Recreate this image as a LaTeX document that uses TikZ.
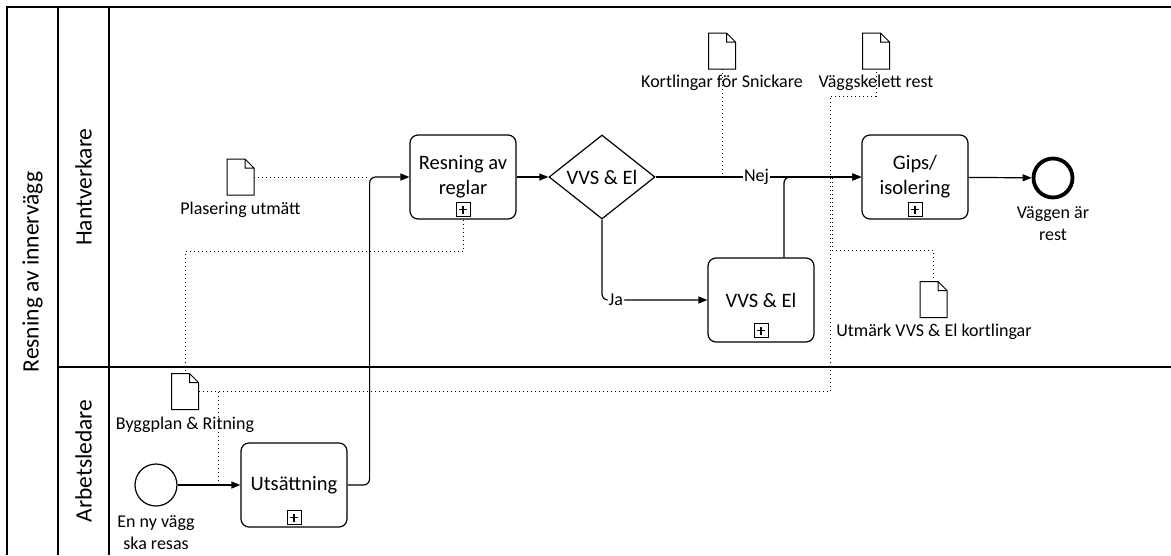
\documentclass[tikz,border=0pt]{standalone}
\usepackage{fontspec}
\setmainfont{Carlito}
\usetikzlibrary{arrows.meta,shapes.geometric}

% outline of a BPMN data object (page with folded corner)
\newcommand\docshape[1]{%
  \draw[docline] (#1.south west) -- (#1.north west) -- ([xshift=-9pt]#1.north east)
    -- ([yshift=-9pt]#1.north east) -- (#1.south east) -- cycle
    ([xshift=-9pt]#1.north east) -- ([xshift=-9pt,yshift=-9pt]#1.north east)
    -- ([yshift=-9pt]#1.north east);}

\begin{document}
\begin{tikzpicture}[x=1pt,y=-1pt,
  poolline/.style={line width=1.5pt},
  task/.style={draw, rounded corners=8pt, line width=1.2pt, minimum width=106pt,
    minimum height=84pt, inner sep=2pt, align=center,
    font=\fontsize{20.5}{25}\selectfont},
  marker/.style={draw, line width=1pt, minimum size=14pt, inner sep=0pt,
    path picture={\draw[line width=1.6pt]
      ([xshift=-4pt]path picture bounding box.center) -- ([xshift=4pt]path picture bounding box.center)
      ([yshift=-4pt]path picture bounding box.center) -- ([yshift=4pt]path picture bounding box.center);}},
  gateway/.style={draw, diamond, line width=1.2pt, minimum width=106pt, minimum height=84pt, inner sep=0pt},
  gwtext/.style={font=\fontsize{20.5}{25}\selectfont, inner sep=0pt},
  startev/.style={draw, circle, line width=1.2pt, minimum size=42pt, inner sep=0pt},
  endev/.style={draw, circle, line width=3.8pt, minimum size=39pt, inner sep=0pt},
  dataobj/.style={minimum width=27pt, minimum height=36pt, inner sep=0pt, outer sep=0pt},
  docline/.style={line width=1pt, line join=miter},
  lbl/.style={font=\fontsize{18}{22}\selectfont, align=center, inner sep=1pt},
  lanelbl/.style={font=\fontsize{23.5}{28}\selectfont, rotate=90, inner sep=0pt},
  flow/.style={line width=1.2pt, -{Triangle[length=9pt,width=7pt]}, rounded corners=6pt},
  assoc/.style={line width=0.9pt, dash pattern=on 1pt off 3pt},
  flowlbl/.style={font=\fontsize{18}{22}\selectfont, fill=white, inner sep=1pt}]
\useasboundingbox (0,0) rectangle (1171,555);

% pool and lanes
\draw[poolline] (1171,7) -- (7,7) -- (7,555);
\draw[poolline] (58,7) -- (58,555);
\draw[poolline] (109,7) -- (109,555);
\draw[line width=1.8pt] (58,367) -- (1171,367);
\node[lanelbl] (pool) at (32.5,272) {Resning av innervägg};
\node[lanelbl] (lane1) at (83.5,187) {Hantverkare};
\node[lanelbl] (lane2) at (83.5,461) {Arbetsledare};

% flow nodes
\node[startev] (start) at (156,485) {};
\node[lbl] (lstart) at (156,533) {En ny vägg\\ska resas};
\node[task] (tut) at (294,485) {Utsättning};
\node[task] (tres) at (463,177) {Resning av\\reglar};
\node[gateway] (gw) at (602,177) {};
\node[gwtext] (gwt) at (gw.center) {VVS \& El};
\node[task] (tvvs) at (761,300) {VVS \& El};
\node[task] (tgips) at (915,177) {Gips/\\isolering};
\node[endev] (end) at (1053,178) {};
\node[lbl] (lend) at (1053,224) {Väggen är\\rest};

% sub-process markers
\node[marker] (m1) at ([yshift=10pt]tut.south) {};
\node[marker] (m2) at ([yshift=10pt]tres.south) {};
\node[marker] (m3) at ([yshift=12pt]tvvs.south) {};
\node[marker] (m4) at ([yshift=10pt]tgips.south) {};

% data objects
\node[dataobj] (dplas) at (240.5,177) {};
\docshape{dplas}
\node[lbl] (lplas) at (240.5,210) {Plasering utmätt};
\node[dataobj] (dbygg) at (185,391.5) {};
\docshape{dbygg}
\node[lbl] (lbygg) at (185,425) {Byggplan \& Ritning};
\node[dataobj] (dkort) at (722,51) {};
\docshape{dkort}
\node[lbl] (lkort) at (722,83) {Kortlingar för Snickare};
\node[dataobj] (dvagg) at (876,51) {};
\docshape{dvagg}
\node[lbl] (lvagg) at (876,83) {Väggskelett rest};
\node[dataobj] (dutm) at (933.5,299.5) {};
\docshape{dutm}
\node[lbl] (lutm) at (934,332) {Utmärk VVS \& El kortlingar};

% attachment points of associations on sequence flows
\coordinate (cplas) at (367,177);
\coordinate (cbygg) at (218,485);
\coordinate (cvagg) at (830,96);
\coordinate (cutm) at (832,177);

% associations
\draw[assoc] (dplas.east) -- (cplas);
\draw[assoc] (tres.south) -- ++(0,32) -| (dbygg.north);
\draw[assoc] (dbygg.east) -| (cvagg) -| (dvagg.south);
\draw[assoc] (cbygg) -- (cbygg |- dbygg.east);
\draw[assoc] (dkort.south) -- (dkort.south |- gw.east);
\draw[assoc] (dutm.north) -- ++(0,-31) -| (cutm);

% sequence flows
\draw[flow] (start) -- (tut);
\draw[flow] (tut.east) -- ++(22,0) |- (tres.west);
\draw[flow] (tres) -- (gw);
\draw[flow] (gw.south) |- node[flowlbl, pos=0.566] (lja) {Ja} (tvvs.west);
\draw[flow] (gw.east) -- node[flowlbl, pos=0.49] (lnej) {Nej} (tgips.west);
\draw[flow] ([xshift=23pt]tvvs.north) |- (tgips.west);
\draw[flow] (tgips) -- (end);
\end{tikzpicture}
\end{document}
